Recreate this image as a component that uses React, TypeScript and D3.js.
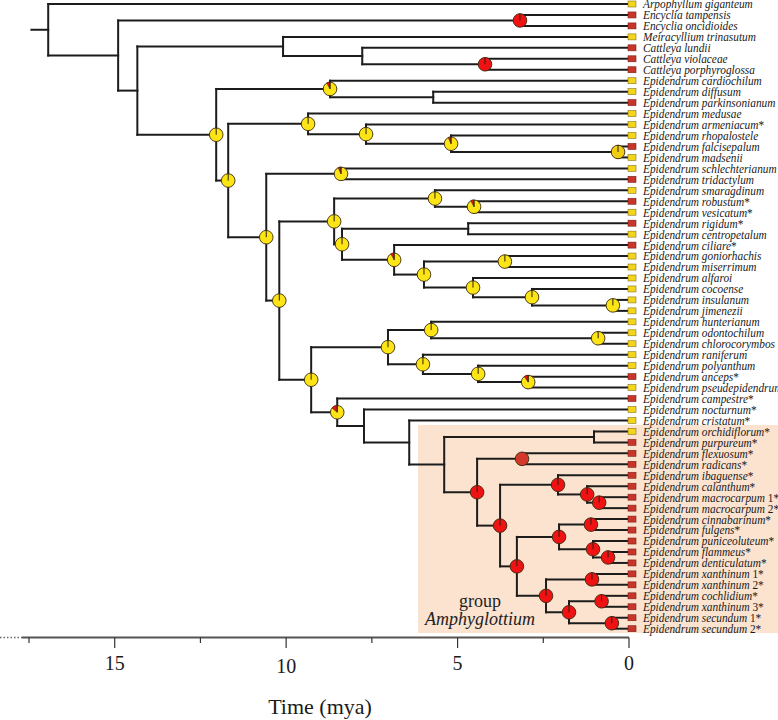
import React from "react";
import * as d3 from "d3";

const taxa: string[] = [
  "Arpophyllum giganteum", "Encyclia tampensis", "Encyclia oncidioides", "Meiracyllium trinasutum",
  "Cattleya lundii", "Cattleya violaceae", "Cattleya porphyroglossa", "Epidendrum cardiochilum",
  "Epidendrum diffusum", "Epidendrum parkinsonianum", "Epidendrum medusae", "Epidendrum armeniacum*",
  "Epidendrum rhopalostele", "Epidendrum falcisepalum", "Epidendrum madsenii", "Epidendrum schlechterianum",
  "Epidendrum tridactylum", "Epidendrum smaragdinum", "Epidendrum robustum*", "Epidendrum vesicatum*",
  "Epidendrum rigidum*", "Epidendrum centropetalum", "Epidendrum ciliare*", "Epidendrum goniorhachis",
  "Epidendrum miserrimum", "Epidendrum alfaroi", "Epidendrum cocoense", "Epidendrum insulanum",
  "Epidendrum jimenezii", "Epidendrum hunterianum", "Epidendrum odontochilum", "Epidendrum chlorocorymbos",
  "Epidendrum raniferum", "Epidendrum polyanthum", "Epidendrum anceps*", "Epidendrum pseudepidendrum",
  "Epidendrum campestre*", "Epidendrum nocturnum*", "Epidendrum cristatum*", "Epidendrum orchidiflorum*",
  "Epidendrum purpureum*", "Epidendrum flexuosum*", "Epidendrum radicans*", "Epidendrum ibaguense*",
  "Epidendrum calanthum*", "Epidendrum macrocarpum 1*", "Epidendrum macrocarpum 2*", "Epidendrum cinnabarinum*",
  "Epidendrum fulgens*", "Epidendrum puniceoluteum*", "Epidendrum flammeus*", "Epidendrum denticulatum*",
  "Epidendrum xanthinum 1*", "Epidendrum xanthinum 2*", "Epidendrum cochlidium*", "Epidendrum xanthinum 3*",
  "Epidendrum secundum 1*", "Epidendrum secundum 2*",
];

// Y = yellow state, R = red state
const tipStates: string[] = [
  "Y", "R", "R", "Y", "R", "R", "R", "Y", "Y", "R",
  "Y", "Y", "Y", "R", "Y", "Y", "R", "Y", "R", "Y",
  "R", "Y", "R", "Y", "Y", "Y", "Y", "Y", "Y", "Y",
  "Y", "Y", "Y", "Y", "R", "Y", "R", "Y", "Y", "Y",
  "R", "R", "R", "R", "R", "R", "R", "R", "R", "R",
  "R", "R", "R", "R", "R", "R", "R", "R",
];

// [id, childA, childB, age (mya), red share of ancestral-state pie or null]
const clades: [string, string | number, string | number, number, number | null][] = [
  ["root", 0, "n1", 16.94, null],
  ["n1", "enc", "n2", 14.9, null],
  ["enc", 1, 2, 3.18, 1],
  ["n2", "mc", "epi", 14.34, null],
  ["mc", 3, "cat", 10.09, null],
  ["cat", 4, "cv", 7.78, null],
  ["cv", 5, 6, 4.2, 1],
  ["epi", "card", "a", 12.04, 0],
  ["card", 7, "diff", 8.72, 0.08],
  ["diff", 8, 9, 5.71, null],
  ["a", "med", "b", 11.69, 0],
  ["med", 10, "arm", 9.36, 0],
  ["arm", 11, "rho", 7.67, 0],
  ["rho", 12, "falc", 5.19, 0.07],
  ["falc", 13, 14, 0.32, 0],
  ["b", "sch", "c", 10.58, 0],
  ["sch", 15, 16, 8.4, 0.07],
  ["c", "d", "e", 10.2, 0],
  ["d", "sma", "f", 8.6, 0],
  ["sma", 17, "rob", 5.66, 0],
  ["rob", 18, 19, 4.52, 0.08],
  ["f", "rig", "g", 8.37, 0],
  ["rig", 20, 21, 4.69, null],
  ["g", 22, "h", 6.85, 0.08],
  ["h", "gon", "i", 5.98, 0],
  ["gon", 23, 24, 3.62, 0],
  ["i", 25, "coc", 4.55, 0],
  ["coc", 26, "ins", 2.83, 0],
  ["ins", 27, 28, 0.47, 0],
  ["e", "j", "camp", 9.27, 0],
  ["j", "hun", "ran", 7.03, 0],
  ["hun", 29, "odo", 5.77, 0],
  ["odo", 30, 31, 0.9, 0],
  ["ran", 32, "pol", 6.01, 0],
  ["pol", 33, "anc", 4.4, 0],
  ["anc", 34, 35, 2.94, 0.1],
  ["camp", 36, "noc", 8.51, 0.14],
  ["noc", 37, "cri", 7.73, null],
  ["cri", 38, "orc", 6.41, null],
  ["orc", "orch", "amph", 5.39, null],
  ["orch", 39, 40, 1.02, null],
  ["amph", "flex", "k", 4.43, 1],
  ["flex", 41, 42, 3.12, 1],
  ["k", "iba", "l", 3.76, 1],
  ["iba", 43, "cal", 2.07, 1],
  ["cal", 44, "mac", 1.22, 1],
  ["mac", 45, 46, 0.87, 1],
  ["l", "m", "x", 3.27, 1],
  ["m", "cin", "pun", 2.04, 1],
  ["cin", 47, 48, 1.11, 1],
  ["pun", 49, "fla", 1.05, 1],
  ["fla", 50, 51, 0.61, 1],
  ["x", "x1", "n", 2.42, 1],
  ["x1", 52, 53, 1.08, 1],
  ["n", "coch", "sec", 1.75, 1],
  ["coch", 54, 55, 0.8, 1],
  ["sec", 56, 57, 0.5, 1],
];

const darkPieNodes: string[] = ["flex"];
const goldPieNodes: string[] = ["falc"];

const timeTicks: number[] = [17.5, 15, 12.5, 10, 7.5, 5, 2.5, 0];
const tickLabels: number[] = [15, 10, 5, 0];
const rootStubAge = 17.43;

const YELLOW = "#fde414";
const GOLD = "#f0cc12";
const RED = "#f01212";
const DARKRED = "#d2392b";
const TIP_Y = "#f3d51c";
const TIP_R = "#c8362b";

type TNode = { id: string; age: number; pie: number | null; tip?: number; children?: TNode[] };

function build(ref: string | number): TNode {
  if (typeof ref === "number") return { id: "t" + ref, age: 0, pie: null, tip: ref };
  const row = clades.find((c) => c[0] === ref)!;
  return { id: row[0], age: row[3], pie: row[4], children: [build(row[1]), build(row[2])] };
}

export default function App() {
  const root = d3.hierarchy<TNode>(build("root"));
  const x = d3.scaleLinear().domain([17.5, 0]).range([29, 629]);
  const yTip = d3.scaleLinear().domain([0, taxa.length - 1]).range([4, 628.7]);
  const pos = new Map<string, { x: number; y: number }>();
  root.eachAfter((n) => {
    const d = n.data;
    let y: number;
    if (d.tip !== undefined) y = yTip(d.tip);
    else {
      const ks = n.children!;
      y = (pos.get(ks[0].data.id)!.y + pos.get(ks[ks.length - 1].data.id)!.y) / 2;
    }
    pos.set(d.id, { x: x(d.age), y });
  });

  const branches: any[] = [];
  root.each((n) => {
    const p = pos.get(n.data.id)!;
    if (n.parent) {
      const pp = pos.get(n.parent.data.id)!;
      branches.push(<line key={"h" + n.data.id} x1={pp.x} x2={p.x} y1={p.y} y2={p.y} />);
    }
    if (n.children) {
      const a = pos.get(n.children[0].data.id)!;
      const b = pos.get(n.children[n.children.length - 1].data.id)!;
      branches.push(<line key={"v" + n.data.id} x1={p.x} x2={p.x} y1={a.y} y2={b.y} />);
    }
  });
  const rp = pos.get("root")!;

  const arc = d3.arc<any>().innerRadius(0).outerRadius(6.8);
  const pies: any[] = [];
  root.each((n) => {
    const d = n.data;
    if (d.pie === null || d.tip !== undefined) return;
    const p = pos.get(d.id)!;
    const dark = darkPieNodes.includes(d.id);
    const gold = goldPieNodes.includes(d.id);
    const base = dark ? DARKRED : d.pie >= 0.5 ? RED : gold ? GOLD : YELLOW;
    const red = d.pie;
    pies.push(
      <g key={"p" + d.id} transform={`translate(${p.x},${p.y})`}>
        <circle r={6.8} fill={base} stroke="#3a2a10" strokeWidth={0.9} />
        {red > 0 && red < 1 && (
          <path
            d={arc({ startAngle: 2 * Math.PI * (1 - red), endAngle: 2 * Math.PI })!}
            fill={RED}
            stroke="#3a2a10"
            strokeWidth={0.6}
          />
        )}
        {!dark && <line x1={0} y1={0} x2={0} y2={-6.8} stroke="#2a2010" strokeWidth={1} />}
      </g>
    );
  });

  return (
    <svg
      width={778}
      height={720}
      style={{ position: "absolute", left: 0, top: 0, background: "#fff" }}
      fontFamily="'Liberation Serif', 'Times New Roman', serif"
    >
      <rect x={418} y={425} width={360} height={208} fill="#fbe3cf" />
      <text x={480} y={607} fontSize={18} textAnchor="middle" fill="#222">group</text>
      <text x={480} y={625} fontSize={18} textAnchor="middle" fontStyle="italic" fill="#222">Amphyglottium</text>
      <g stroke="#1c1c1c" strokeWidth={2} strokeLinecap="square">
        <line x1={x(rootStubAge)} x2={rp.x} y1={rp.y} y2={rp.y} />
        {branches}
      </g>
      {pies}
      {taxa.map((name, i) => {
        const y = yTip(i);
        const m = name.match(/^(.*?)((?: \d)?\*)?$/)!;
        const st = tipStates[i];
        return (
          <g key={name}>
            <rect
              x={628}
              y={y - 3}
              width={8}
              height={6}
              fill={st === "Y" ? TIP_Y : TIP_R}
              stroke={st === "Y" ? "#8a7414" : "#7a1f16"}
              strokeWidth={0.6}
            />
            <text transform={`translate(643,${y + 4.4}) scale(0.9,1)`} fontSize={12.6} fill="#1a1a1a">
              <tspan fontStyle="italic">{m[1]}</tspan>
              {m[2] && <tspan>{m[2]}</tspan>}
            </text>
          </g>
        );
      })}
      <g>
        <line x1={0} x2={22} y1={637.5} y2={637.5} stroke="#666" strokeWidth={1.5} strokeDasharray="1.5 2" />
        <line x1={22} x2={x(0)} y1={637.5} y2={637.5} stroke="#555" strokeWidth={2} />
        {timeTicks.map((t) => (
          <line
            key={"tk" + t}
            x1={x(t)}
            x2={x(t)}
            y1={637.5}
            y2={t % 5 === 0 ? 648 : 643}
            stroke="#333"
            strokeWidth={1.2}
          />
        ))}
        {tickLabels.map((t) => (
          <text key={"tl" + t} x={x(t)} y={t === 10 ? 673 : 670} fontSize={20} textAnchor="middle" fill="#1a1a1a">
            {t}
          </text>
        ))}
        <text x={320} y={714} fontSize={22} textAnchor="middle" fill="#1a1a1a">Time (mya)</text>
      </g>
    </svg>
  );
}
